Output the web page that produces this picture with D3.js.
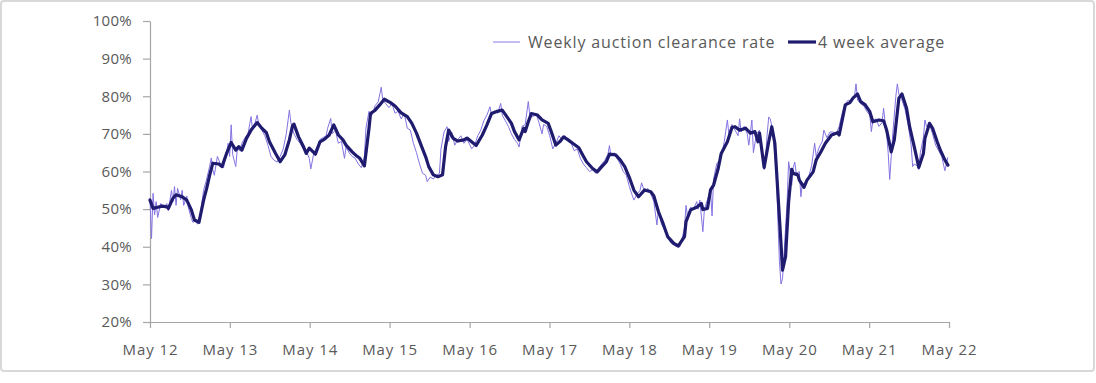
<!DOCTYPE html>
<html><head><meta charset="utf-8">
<script src="https://cdn.jsdelivr.net/npm/d3@7"></script>
<style>
body{margin:0;background:#fff;}
svg{display:block;font-family:"Open Sans",sans-serif;}
</style>
</head><body>
<svg id="c" width="1096" height="383"></svg>
<script>
// ---- data (weeks since 1 May 2012) ----
const yTicks = [20,30,40,50,60,70,80,90,100];
const xTickYears = [2012,2013,2014,2015,2016,2017,2018,2019,2020,2021,2022];
const seriesNames = ["Weekly auction clearance rate","4 week average"];

const avgWeek = [0,2,5,8,11,12,15,17,21,24,27,29,32,35,37,39,41,45,47,50,53,56,58,60,63,66,70,73,76,78,82,85,88,91,93,94,97,100,102,104,108,111,114,117,120,123,126,128,132,135,137,140,143,144,147,150,153,157,160,164,168,171,174,177,180,182,185,188,191,193,195,198,201,205,207,210,213,217,220,223,226,230,233,236,238,241,244,245,247,249,253,256,260,262,265,268,270,273,276,280,282,285,289,292,295,298,300,304,307,310,313,316,319,323,327,329,332,335,338,342,345,349,350,353,357,360,361,364,366,368,371,373,377,380,382,385,389,392,395,397,398,401,404,406,408,410,412,413,415,417,419,420,423,424,427,429,433,435,438,441,445,449,450,454,457,459,462,464,467,470,472,476,479,481,484,486,489,491,494,496,499,502,505,506,509,511,514,516,519,521];
const avgValue = [52.4,50.2,50.5,50.8,50.6,50.2,52.9,53.8,53.3,52.4,49.8,47.1,46.5,52.4,55.5,59.1,62.2,62.0,61.3,64.8,67.7,65.7,66.6,65.7,68.8,71.0,73.0,71.5,70.3,67.9,64.8,62.6,64.4,68.4,72.1,72.6,69.2,66.8,64.8,66.2,64.6,67.9,68.6,69.7,72.4,69.7,68.4,67.0,65.2,64.1,63.5,61.5,71.5,75.4,76.3,77.7,79.2,78.3,77.4,75.6,74.6,72.8,70.2,67.0,63.9,61.3,59.1,58.6,59.1,66.6,71.0,68.8,68.1,68.4,68.9,67.9,66.9,69.7,72.4,75.4,75.9,76.3,74.6,72.8,70.6,68.4,71.5,70.6,73.2,75.4,75.0,73.7,72.8,70.6,67.0,68.1,69.2,68.4,67.5,66.3,64.8,62.6,60.8,59.9,61.3,62.6,64.6,64.4,63.1,61.3,58.4,55.0,53.3,55.1,54.6,53.5,49.3,46.2,42.7,40.9,40.2,42.7,46.7,49.8,50.5,51.5,49.9,50.2,55.1,56.4,60.8,64.8,67.9,71.7,71.9,71.0,71.5,70.2,70.6,67.9,70.2,61.1,67.9,71.9,67.5,54.2,40.9,33.8,37.4,52.0,60.6,59.5,59.1,57.7,55.8,57.7,59.9,63.1,65.2,67.5,69.7,70.3,69.7,77.7,78.3,79.5,80.6,78.6,77.7,75.9,73.2,73.7,73.5,71.0,65.2,68.4,79.5,80.6,76.8,71.9,66.6,61.1,64.8,68.8,72.8,71.5,67.9,65.7,63.1,61.7];

const weeklyWeek = [0,1,2,3,4,5,7,9,11,12,14,15,16,17,18,20,21,22,24,25,27,28,30,31,33,35,37,39,40,41,42,44,46,48,50,51,52,53,54,56,57,59,60,62,64,66,67,68,70,71,73,75,77,79,81,83,85,87,89,91,92,94,96,98,100,102,104,105,107,109,111,113,115,116,118,119,121,123,125,127,128,130,132,134,136,138,140,141,143,145,147,149,151,152,154,156,158,160,162,164,166,168,170,172,174,176,178,180,181,183,185,187,189,190,192,194,195,197,199,201,203,205,207,209,210,212,214,216,218,220,222,223,225,227,229,230,232,234,236,238,240,241,243,245,247,248,250,252,254,256,257,259,261,263,265,267,269,271,273,275,277,279,281,283,285,287,289,291,293,295,297,299,300,301,303,305,307,309,311,313,315,316,318,320,321,323,325,327,329,331,332,334,336,338,340,342,344,346,347,349,350,351,353,355,357,358,359,361,362,364,366,367,368,370,372,374,375,377,378,380,382,384,385,386,388,390,391,393,394,396,398,399,401,402,403,404,405,406,407,409,410,411,412,413,414,416,417,418,419,420,421,422,424,425,426,428,430,432,434,435,437,439,440,442,444,446,448,450,452,454,456,458,460,461,462,464,466,468,470,471,472,474,476,478,479,480,481,482,483,484,485,486,487,488,489,491,493,495,497,498,499,501,502,503,505,506,507,509,511,513,515,517,519,520,521];
const weeklyValue = [53,42.2,54.2,48.5,52,47.8,51.5,50.5,51.5,49.5,55,52,56,51,55.5,52.5,55,51,53.5,50.5,47.5,46.5,47,46,49,55,58,61.5,63.6,60.5,59,64,62,61,65,67.5,64,72.4,64.5,61.3,66,65.5,67.5,69,70,74.6,71,72,75,72.5,71,69.5,67,64,63,62.5,64,66,70,76.3,73,70,68.5,67.5,66,65.5,63.5,60.7,65,66.5,68.5,69,69.5,71.5,74.1,70,71,67.5,68,63.5,66.5,65,64,63.5,62,61,64,71.5,76,75,77.5,78.5,82.4,79,78,77,78,75.5,76,74,75.5,71.5,71,67.5,65,62,59.5,59,57.3,58.5,58,59,59.5,66,70.5,71.9,68,70.5,67,68.5,69.5,67.5,68.5,67,66,67,69.5,71,73.5,75,77.2,75,76,75.5,78.1,75,73.5,72,70,68.5,67.5,66.5,72,72.5,78.6,75,74.5,75.5,73,70,72.5,72,69.5,66,67.5,69.5,68.5,69.5,68,67.5,65.5,66,63.5,62,61,60,60.5,59.5,61,62,63,64.5,66.9,64,65,63.5,62,60,59,56,53.5,52.4,54,55,57,54.5,55.5,54,52,45.8,50,46,44.5,42.5,41,40.5,40,40,41.5,45,51,48,50.5,50,52,50,52.4,44,50,52.5,55,48.2,58,62,63,66,68,73.7,70,72.5,71,69.5,74,70.5,72,70,67,73.7,65,70,71,68,60.5,64,70,74.5,74,72,69,60,47,36,30.1,31.5,38,52,62.6,60,56.4,61,62.5,59.5,60,53.3,57,56.5,58.5,61.5,67.5,64,66.5,68,71,69,70.5,70.5,70,72,75.5,78,79,78.5,80,83.3,79,78,77.5,76,75,70.6,73.5,74,72,73,76.8,73,70,65,57.9,64,70,75,80,83.3,80.5,79,76.5,72.5,67,61.3,62,61.5,60.5,65,69,73.7,72,72.5,70,67,65.5,64,60.2,62,63.8];

// ---- chart ----
const svg = d3.select("#c");
const start = new Date(2012, 4, 1);
const toDate = w => d3.timeDay.offset(start, Math.round(w * 7));

const x = d3.scaleTime().domain([new Date(2012,4,1), new Date(2022,4,1)]).range([150, 949]);
const y = d3.scaleLinear().domain([20, 100]).range([322, 21]);

// frame
svg.append("rect").attr("x",1).attr("y",1).attr("width",1093).attr("height",370)
  .attr("rx",3).attr("fill","#fff").attr("stroke","#d9d9d9").attr("stroke-width",2);

const axisColor = "#a6a6a6", textColor = "#595959";

const yAxis = svg.append("g").attr("transform","translate(150,0)")
  .call(d3.axisLeft(y).tickValues(yTicks).tickSize(7).tickSizeOuter(0).tickPadding(11).tickFormat(d => d + "%"));
const xAxis = svg.append("g").attr("transform","translate(0,322)")
  .call(d3.axisBottom(x).tickValues(xTickYears.map(yr => new Date(yr,4,1))).tickSize(6).tickSizeOuter(0).tickPadding(16).tickFormat(d3.timeFormat("%b %y")));
[yAxis, xAxis].forEach(g => {
  g.selectAll("path,line").attr("stroke", axisColor).attr("stroke-width", 1.2);
  g.selectAll("text").attr("fill", textColor).attr("font-size", 15).attr("font-family", '"Open Sans",sans-serif');
});
yAxis.selectAll("text").attr("letter-spacing", 0.3);
xAxis.selectAll("text").attr("letter-spacing", 0.9);

const weekly = weeklyWeek.map((w,i) => ({d: toDate(w), v: weeklyValue[i]}));
const avg = avgWeek.map((w,i) => ({d: toDate(w), v: avgValue[i]}));
const line = d3.line().x(p => x(p.d)).y(p => y(p.v));

svg.append("path").datum(weekly).attr("d", line).attr("fill","none")
  .attr("stroke","#8373e2").attr("stroke-width",1).attr("stroke-linejoin","round");
svg.append("path").datum(avg).attr("d", line).attr("fill","none")
  .attr("stroke","#1f1b6e").attr("stroke-width",3.2).attr("stroke-linejoin","round").attr("stroke-linecap","round");

// legend
const lg = svg.append("g").attr("font-size",16).attr("fill",textColor).attr("letter-spacing",0.85);
lg.append("line").attr("x1",493).attr("x2",520).attr("y1",42).attr("y2",42).attr("stroke","#b3a6ee").attr("stroke-width",1.5);
lg.append("text").attr("x",528).attr("y",42).attr("dy","0.35em").text(seriesNames[0]);
lg.append("line").attr("x1",788).attr("x2",816).attr("y1",42).attr("y2",42).attr("stroke","#1f1b6e").attr("stroke-width",3.2);
lg.append("text").attr("x",818).attr("y",42).attr("dy","0.35em").text(seriesNames[1]);
</script>
</body></html>
